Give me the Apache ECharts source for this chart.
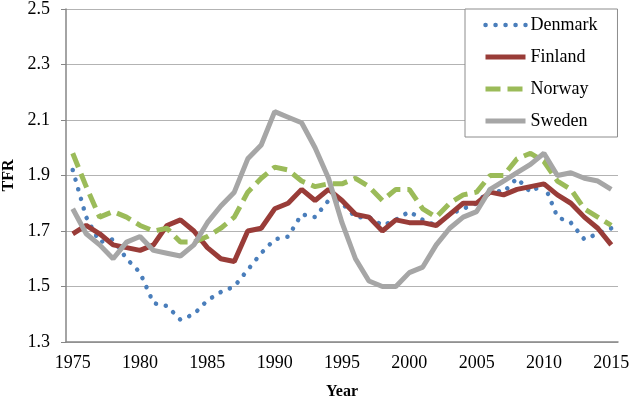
<!DOCTYPE html>
<html>
<head>
<meta charset="utf-8">
<script src="https://cdn.jsdelivr.net/npm/echarts@6/dist/echarts.min.js"></script>
<style>
html,body{margin:0;padding:0;background:#fff;}
#chart{width:629px;height:402px;}
</style>
</head>
<body>
<div id="chart"></div>
<script>
var years = [];
for (var y = 1975; y <= 2015; y++) years.push(String(y));

var denmark = [1.92,1.75,1.66,1.67,1.60,1.55,1.44,1.43,1.38,1.40,1.45,1.48,1.50,1.56,1.62,1.67,1.68,1.76,1.75,1.81,1.80,1.75,1.75,1.72,1.74,1.77,1.74,1.72,1.76,1.78,1.80,1.85,1.84,1.89,1.84,1.87,1.75,1.73,1.67,1.69,1.71];
var finland = [1.69,1.72,1.69,1.65,1.64,1.63,1.65,1.72,1.74,1.70,1.64,1.60,1.59,1.70,1.71,1.78,1.80,1.85,1.81,1.85,1.81,1.76,1.75,1.70,1.74,1.73,1.73,1.72,1.76,1.80,1.80,1.84,1.83,1.85,1.86,1.87,1.83,1.80,1.75,1.71,1.65];
var norway = [1.98,1.86,1.75,1.77,1.75,1.72,1.70,1.71,1.66,1.66,1.68,1.71,1.75,1.84,1.89,1.93,1.92,1.88,1.86,1.87,1.87,1.89,1.86,1.81,1.85,1.85,1.78,1.75,1.80,1.83,1.84,1.90,1.90,1.96,1.98,1.95,1.88,1.85,1.78,1.75,1.72];
var sweden = [1.78,1.69,1.65,1.60,1.66,1.68,1.63,1.62,1.61,1.65,1.73,1.79,1.84,1.96,2.01,2.13,2.11,2.09,2.00,1.89,1.73,1.60,1.52,1.50,1.50,1.55,1.57,1.65,1.71,1.75,1.77,1.85,1.88,1.91,1.94,1.98,1.90,1.91,1.89,1.88,1.85];

var serif = '"Liberation Serif","DejaVu Serif",serif';
var styles = {
  Denmark: {color: '#4a7ebb', width: 4.5, type: [0.1, 9.9], cap: 'round'},
  Finland: {color: '#993c38', width: 5, type: 'solid', cap: 'butt'},
  Norway: {color: '#9bbb59', width: 5, type: [15, 7], cap: 'butt'},
  Sweden: {color: '#a6a6a6', width: 5, type: 'solid', cap: 'butt'}
};
var names = ['Denmark','Finland','Norway','Sweden'];
var dataArr = [denmark, finland, norway, sweden];

var chart = echarts.init(document.getElementById('chart'));
chart.setOption({
  animation: false,
  backgroundColor: '#fff',
  grid: {left: 66, right: 11, top: 9, bottom: 60, containLabel: false, outerBoundsMode: 'none'},
  legend: {
    orient: 'vertical',
    left: 465, top: 9,
    padding: [6, 20, 6, 18],
    borderColor: '#8c8c8c', borderWidth: 1,
    backgroundColor: '#fff',
    itemWidth: 40, itemHeight: 14, itemGap: 12,
    itemStyle: {opacity: 0},
    textStyle: {fontFamily: serif, fontSize: 18, color: '#000', lineHeight: 20},
    data: names.map(function (n) {
      var s = styles[n];
      return {name: n, itemStyle: {opacity: 0},
        lineStyle: {color: s.color, width: s.width, type: s.type, cap: s.cap}};
    })
  },
  xAxis: {
    type: 'category',
    data: years,
    boundaryGap: true,
    name: 'Year', nameLocation: 'middle', nameGap: 42,
    nameTextStyle: {fontFamily: serif, fontSize: 16, fontWeight: 'bold', color: '#000'},
    axisLine: {lineStyle: {color: '#868686', width: 1.5}},
    axisTick: {interval: 0, length: 5, lineStyle: {color: '#868686', width: 1}},
    axisLabel: {interval: 4, margin: 12, fontFamily: serif, fontSize: 18, color: '#000'},
    splitLine: {show: false}
  },
  yAxis: {
    type: 'value',
    min: 1.3, max: 2.5, interval: 0.2,
    name: 'TFR', nameLocation: 'middle', nameGap: 47, nameRotate: 90,
    nameTextStyle: {fontFamily: serif, fontSize: 16, fontWeight: 'bold', color: '#000'},
    axisLine: {show: true, lineStyle: {color: '#868686', width: 1.5}},
    axisTick: {show: true, length: 5, lineStyle: {color: '#868686'}},
    axisLabel: {margin: 16, fontFamily: serif, fontSize: 18, color: '#000',
      formatter: function (v) { return v.toFixed(1); }},
    splitLine: {lineStyle: {color: '#b3b3b3', width: 1}}
  },
  series: names.map(function (n, i) {
    var s = styles[n];
    return {name: n, type: 'line', data: dataArr[i], symbol: 'none', color: s.color,
      lineStyle: {width: s.width, type: s.type, cap: s.cap, color: s.color}};
  })
});
</script>
</body>
</html>
